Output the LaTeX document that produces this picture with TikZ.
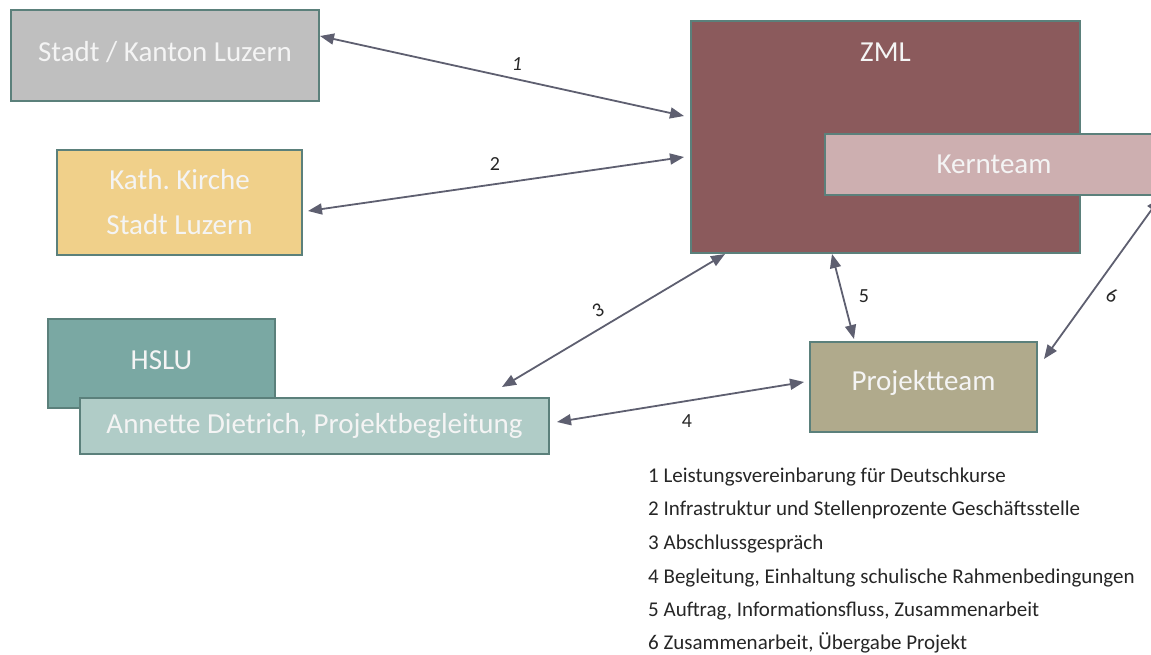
\documentclass[tikz,border=0pt]{standalone}
\usepackage{fontspec}
\setmainfont{Carlito}
\usetikzlibrary{arrows.meta}
\definecolor{bordc}{HTML}{5B807B}
\definecolor{arrc}{HTML}{5E5F70}
\definecolor{stadtc}{HTML}{BFBFBF}
\definecolor{kirchec}{HTML}{F0D08A}
\definecolor{hsluc}{HTML}{7AA8A3}
\definecolor{annc}{HTML}{B0CCC7}
\definecolor{zmlc}{HTML}{8B5A5C}
\definecolor{kernc}{HTML}{CDAFB0}
\definecolor{projc}{HTML}{B0AA8C}
\definecolor{txtw}{HTML}{F4F4F4}
\definecolor{legc}{HTML}{262626}
\tikzset{
  boxst/.style={draw=bordc, line width=2pt, inner sep=0pt, text=txtw, font=\fontsize{29}{34}\selectfont},
  conn/.style={draw=arrc, line width=1.8pt, {Triangle[length=14pt,width=11pt]}-{Triangle[length=14pt,width=11pt]}},
  numlab/.style={text=legc, font=\fontsize{20}{24}\selectfont, inner sep=0pt},
  legst/.style={text=legc, font=\fontsize{21}{24}\selectfont, anchor=west, inner sep=0pt}
}
\begin{document}
\begin{tikzpicture}[x=1pt,y=-1pt]
\useasboundingbox (0,0) rectangle (1151,655);
\clip (0,0) rectangle (1151,655);
\node[boxst, fill=stadtc, minimum width=308pt, minimum height=91pt] (stadt) at (165,55.5) {};
\node[text=txtw, font=\fontsize{29}{34}\selectfont] (stadtt) at (165,52) {Stadt / Kanton Luzern};
\node[boxst, fill=kirchec, minimum width=245pt, minimum height=105pt, align=center, font=\fontsize{29}{45}\selectfont] (kirche) at (179.5,202.5) {Kath.\ Kirche\\Stadt Luzern};
\node[boxst, fill=hsluc, minimum width=227pt, minimum height=89pt] (hslu) at (161.5,363.5) {};
\node[text=txtw, font=\fontsize{29}{34}\selectfont] (hslut) at (161.5,360) {HSLU};
\node[boxst, fill=annc, minimum width=469pt, minimum height=56pt] (annette) at (314.5,426) {Annette Dietrich, Projektbegleitung};
\node[boxst, fill=zmlc, minimum width=389pt, minimum height=232pt] (zml) at (885.5,137) {};
\node[text=txtw, font=\fontsize{29}{34}\selectfont] (zmlt) at (885.5,52) {ZML};
\node[boxst, fill=kernc, minimum width=338pt, minimum height=61pt] (kern) at (994,164.5) {Kernteam};
\node[boxst, fill=projc, minimum width=227pt, minimum height=90pt] (proj) at (923.5,387) {};
\node[text=txtw, font=\fontsize{29}{34}\selectfont] (projt) at (923.5,383) {Projektteam};

\draw[conn] ([yshift=19.5pt]stadt.east) -- ([xshift=-6pt,yshift=21pt]zml.west);
\draw[conn] ([xshift=5pt,yshift=-8.5pt]kirche.east) -- ([xshift=-6pt,yshift=-20pt]zml.west);
\draw[conn] ([xshift=-160.5pt]zml.south) -- ([xshift=187.5pt,yshift=10pt]annette.north);
\draw[conn] ([xshift=-5pt,yshift=5pt]proj.west) -- ([xshift=7pt,yshift=4pt]annette.east);
\draw[conn] ([xshift=-53.5pt]zml.south) -- ([xshift=-69.5pt,yshift=2pt]proj.north);
\draw[conn] ([xshift=-4pt,yshift=-2pt]kern.south east) -- ([xshift=6pt,yshift=-18pt]proj.north east);

\node[numlab, font=\itshape\fontsize{20}{24}\selectfont] (l1) at (517,64) {1};
\node[numlab] (l2) at (495,164) {2};
\node[numlab, rotate=30] (l3) at (598,310) {3};
\node[numlab] (l4) at (687,421) {4};
\node[numlab] (l5) at (864,296) {5};
\node[numlab, rotate=-25] (l6) at (1112,296) {6};

\node[legst] (g1) at (648,477) {1 Leistungsvereinbarung für Deutschkurse};
\node[legst] (g2) at (648,510) {2 Infrastruktur und Stellenprozente Geschäftsstelle};
\node[legst] (g3) at (648,544) {3 Abschlussgespräch};
\node[legst] (g4) at (648,578) {4 Begleitung, Einhaltung schulische Rahmenbedingungen};
\node[legst] (g5) at (648,611) {5 Auftrag, Informationsfluss, Zusammenarbeit};
\node[legst] (g6) at (648,643) {6 Zusammenarbeit, Übergabe Projekt};
\end{tikzpicture}
\end{document}
